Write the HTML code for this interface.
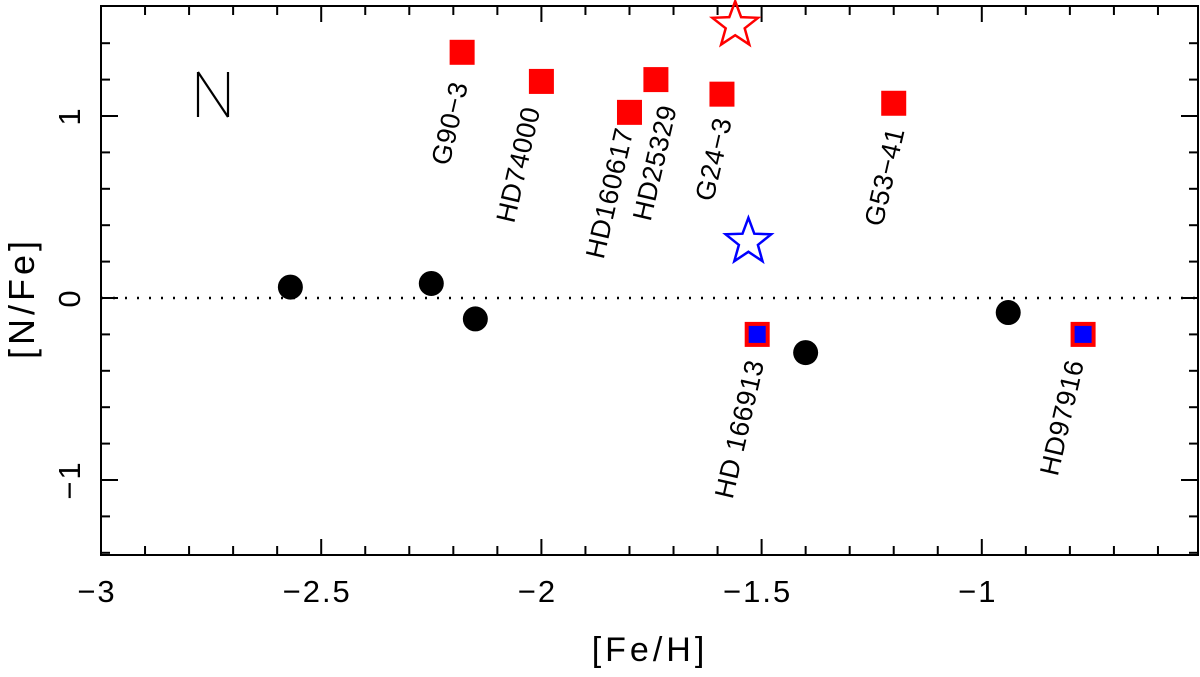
<!DOCTYPE html>
<html><head><meta charset="utf-8"><style>
html,body{margin:0;padding:0;background:#fff}
svg text{font-family:"Liberation Sans",sans-serif}
</style></head><body>
<svg id="chart" width="1200" height="672" viewBox="0 0 1200 672">
<g id="axes"></g>
<g id="marks"></g>
</svg>
<script>
const blackFe=[-2.57,-2.25,-2.15,-1.40,-0.94];
const blackN=[0.06,0.08,-0.115,-0.30,-0.08];
const redNames=["G90−3","HD74000","HD160617","HD25329","G24−3","G53−41"];
const redFe=[-2.18,-2.00,-1.80,-1.74,-1.59,-1.20];
const redN=[1.35,1.19,1.02,1.20,1.12,1.07];
const mixNames=["HD  166913","HD97916"];
const mixFe=[-1.51,-0.77];
const mixN=[-0.20,-0.20];
const starFe=[-1.56,-1.53];
const starN=[1.51,0.32];
const starColors=["red","blue"];
const xTicks=[-3,-2.5,-2,-1.5,-1];
const xTickLabels=["−3","−2.5","−2","−1.5","−1"];
const yTicks=[-1,0,1];
const yTickLabels=["−1","0","1"];
// label placement offsets (px) relative to marker
const redLabelOff=[[6,32],[-1,28],[4,18],[21,28],[10,26],[11,27]];
const mixLabelOff=[[7,28],[1,28]];

const L=101,R=1198,T=6,B=555;
const X=v=>L+(v+3)*440.4;
const Y=v=>298-v*182;
const NS="http://www.w3.org/2000/svg";
function mk(tag,attrs,parent){const e=document.createElementNS(NS,tag);for(const k in attrs)e.setAttribute(k,attrs[k]);parent.appendChild(e);return e;}
const ax=document.getElementById('axes'),mg=document.getElementById('marks');

let f=mk('rect',{x:L,y:T,width:R-L,height:B-T,fill:'none',stroke:'#000','stroke-width':2},ax);


for(let i=0;i<=25;i++){const v=-3+i*0.1;const x=X(v);if(x>R-1)break;const maj=i%5===0;const len=maj?16:9;
 mk('line',{x1:x,y1:B,x2:x,y2:B-len,stroke:'#000','stroke-width':2},ax);
 mk('line',{x1:x,y1:T,x2:x,y2:T+len,stroke:'#000','stroke-width':2},ax);}
for(let i=-7;i<=8;i++){const v=i*0.2;const y=Y(v);if(y<T+1||y>B-1)continue;const maj=i%5===0;const len=maj?17:9;
 mk('line',{x1:L,y1:y,x2:L+len,y2:y,stroke:'#000','stroke-width':2},ax);
 mk('line',{x1:R,y1:y,x2:R-len,y2:y,stroke:'#000','stroke-width':2},ax);}
xTicks.forEach((v,i)=>{const t=mk('text',{x:X(v)-4,y:602,'font-size':31,'text-anchor':'middle','letter-spacing':2,style:'fill:#000'},ax);t.textContent=xTickLabels[i];
 
 });
yTicks.forEach((v,i)=>{const t=mk('text',{x:0,y:0,'font-size':31,'text-anchor':'middle','letter-spacing':2,style:'fill:#000',transform:`translate(80,${Y(v)}) rotate(-90)`},ax);t.textContent=yTickLabels[i];
 
 });
let xt=mk('text',{x:650,y:661,'font-size':34,'text-anchor':'middle','letter-spacing':4,style:'fill:#000'},ax);xt.textContent='[Fe/H]';


let yt=mk('text',{x:0,y:0,'font-size':36,'text-anchor':'middle','letter-spacing':4,style:'fill:#000',transform:'translate(34,298) rotate(-90)'},ax);yt.textContent='[N/Fe]';


let el=mk('path',{d:'M198,117 L198,72 M198,72 L228,117 M228,117 L228,72',fill:'none',stroke:'#000','stroke-width':2.2},ax);


let zl=mk('line',{x1:L,y1:Y(0),x2:R,y2:Y(0),stroke:'#000','stroke-width':2.5,'stroke-dasharray':'2 10'},ax);



blackFe.forEach((v,i)=>{const c=mk('circle',{cx:X(v),cy:Y(blackN[i]),r:12.5,fill:'#000'},mg);
 
 });
function label(txt,x,y){const t=mk('text',{x:0,y:0,'font-size':27,'text-anchor':'end','letter-spacing':0.5,style:'fill:#000',transform:`translate(${x},${y}) rotate(-77)`},mg);t.textContent=txt;
 
 }
redFe.forEach((v,i)=>{const x=X(v),y=Y(redN[i]);const r=mk('rect',{x:x-12.5,y:y-12.5,width:25,height:25,fill:'#f00'},mg);
 
 
 label(redNames[i],x+redLabelOff[i][0],y+redLabelOff[i][1]);});
mixFe.forEach((v,i)=>{const x=X(v),y=Y(mixN[i]);const r=mk('rect',{x:x-10.5,y:y-10.5,width:21,height:21,fill:'#00f',stroke:'#f00','stroke-width':4},mg);
 
 
 label(mixNames[i],x+mixLabelOff[i][0],y+mixLabelOff[i][1]);});
function starPts(cx,cy,Ro,Ri){let p=[];for(let k=0;k<10;k++){const a=-Math.PI/2+k*Math.PI/5;const rr=k%2?Ri:Ro;p.push((cx+rr*Math.cos(a)).toFixed(1)+','+(cy+rr*Math.sin(a)).toFixed(1));}return p.join(' ');}
starFe.forEach((v,i)=>{const s=mk('polygon',{points:starPts(X(v),Y(starN[i])+2,24,10),fill:'none',stroke:starColors[i],'stroke-width':2.5},mg);
 
 });
</script>
</body></html>
